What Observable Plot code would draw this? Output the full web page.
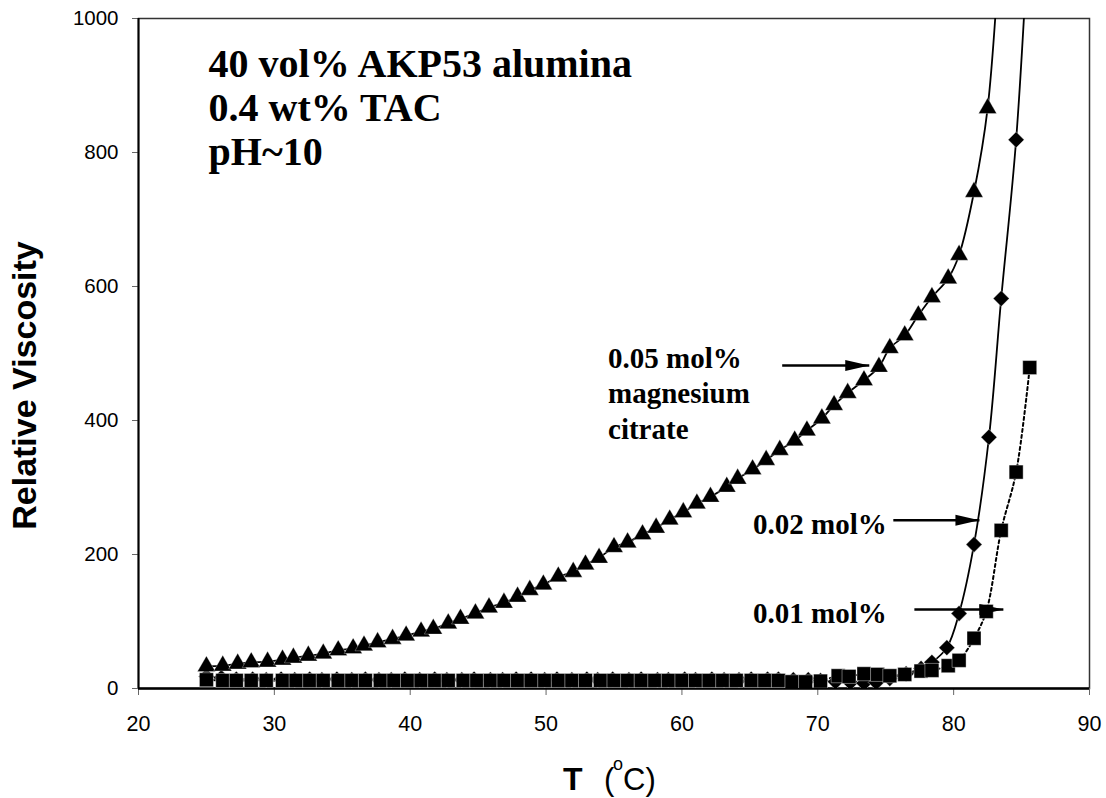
<!DOCTYPE html>
<html><head><meta charset="utf-8">
<script src="https://cdn.jsdelivr.net/npm/d3@7"></script>
<script src="https://cdn.jsdelivr.net/npm/@observablehq/plot@0.6"></script>
<style>body{margin:0;background:#fff} #chart{width:1106px;height:798px;overflow:hidden}</style>
</head><body><div id="chart"></div>
<script>
// 0.05 mol% magnesium citrate (triangles)
const tempA = [25.0, 26.2, 27.3, 28.3, 29.5, 30.6, 31.4, 32.5, 33.6, 34.7, 35.8, 36.6, 37.6, 38.7, 39.7, 40.8, 41.7, 42.8, 43.7, 44.8, 45.8, 46.9, 47.9, 48.8, 49.8, 50.9, 52.0, 52.9, 53.9, 55.0, 56.0, 57.1, 58.1, 59.1, 60.1, 61.1, 62.1, 63.3, 64.1, 65.2, 66.2, 67.2, 68.3, 69.2, 70.3, 71.2, 72.2, 73.4, 74.5, 75.3, 76.4, 77.4, 78.4, 79.6, 80.4, 81.5, 82.5, 83.6];
const viscA = [33, 34, 37, 39, 40, 43, 46, 49, 52, 57, 60, 64, 69, 74, 79, 85, 89, 97, 104, 112, 121, 128, 137, 147, 155, 167, 174, 185, 195, 211, 218, 230, 240, 252, 263, 276, 286, 301, 313, 327, 341, 356, 370, 385, 403, 423, 441, 460, 480, 508, 527, 557, 584, 612, 647, 741, 866, 1180];
// 0.02 mol% (diamonds)
const tempB = [25.0, 26.1, 27.2, 28.4, 29.4, 30.5, 31.5, 32.6, 33.5, 34.6, 35.7, 36.7, 37.7, 38.6, 39.6, 40.7, 41.8, 42.7, 43.8, 44.7, 45.9, 46.8, 47.8, 48.9, 49.9, 50.8, 51.9, 53.0, 53.8, 54.9, 56.1, 57.0, 58.2, 59.0, 60.2, 61.0, 62.2, 63.1, 64.2, 65.1, 66.3, 67.1, 68.2, 69.3, 70.2, 71.3, 72.4, 73.4, 74.3, 75.3, 76.5, 77.6, 78.4, 79.5, 80.4, 81.5, 82.6, 83.5, 84.6, 85.7];
const viscB = [18, 16, 14, 14, 13, 14, 13, 14, 13, 14, 13, 14, 13, 13, 14, 13, 14, 13, 13, 14, 13, 13, 14, 14, 13, 14, 13, 14, 13, 14, 13, 14, 13, 13, 14, 13, 14, 13, 13, 14, 14, 14, 13, 13, 12, 10, 9, 8, 9, 15, 22, 30, 39, 61, 112, 215, 375, 582, 819, 1200];
// 0.01 mol% (squares)
const tempC = [25.0, 26.2, 27.2, 28.3, 29.4, 30.6, 31.6, 32.6, 33.6, 34.7, 35.7, 36.7, 37.8, 38.8, 39.8, 40.8, 41.8, 42.8, 43.9, 44.9, 45.9, 46.9, 47.9, 48.9, 49.9, 50.9, 51.9, 52.9, 54.0, 55.0, 56.0, 57.0, 58.0, 59.0, 60.0, 61.0, 62.0, 63.0, 64.0, 65.1, 66.1, 67.1, 68.1, 69.1, 70.2, 71.5, 72.3, 73.4, 74.4, 75.3, 76.4, 77.6, 78.4, 79.6, 80.4, 81.5, 82.4, 83.5, 84.6, 85.6];
const viscC = [13, 12, 12, 12, 12, 12, 12, 12, 12, 12, 12, 12, 12, 12, 12, 12, 12, 12, 12, 12, 12, 12, 12, 12, 12, 12, 12, 12, 12, 12, 12, 12, 12, 12, 12, 12, 12, 12, 12, 12, 12, 12, 10, 10, 11, 19, 18, 22, 21, 19, 21, 26, 27, 34, 42, 75, 115, 236, 323, 479];

const xTicks = [20, 30, 40, 50, 60, 70, 80, 90];
const yTicks = [0, 200, 400, 600, 800, 1000];

const titleLines = "40 vol% AKP53 alumina\n0.4 wt% TAC\npH~10";
const titleAt = [{x: 25.16, y: 781, label: titleLines}];
const seriesNotes = [
  {x: 54.56, y: 373, label: "0.05 mol%\nmagnesium\ncitrate"},
  {x: 65.24, y: 231, label: "0.02 mol%"},
  {x: 65.24, y: 98.5, label: "0.01 mol%"}
];
const arrows = [
  {x1: 67.38, x2: 73.79, y: 482},
  {x1: 75.56, x2: 81.90, y: 251},
  {x1: 77.11, x2: 83.66, y: 118}
];

const rows = (T, V) => T.map((t, i) => ({T: t, V: V[i]}));
const dA = rows(tempA, viscA), dB = rows(tempB, viscB), dC = rows(tempC, viscC);

const arrowHead = {draw(ctx) { ctx.moveTo(0, 0); ctx.lineTo(-24, -5.5); ctx.lineTo(-24, 5.5); ctx.closePath(); }};

const sans = "'Liberation Sans', Arial, sans-serif";
const serif = "'Liberation Serif', 'Times New Roman', serif";
const plot = Plot.plot({
  width: 1106, height: 798,
  marginLeft: 138, marginRight: 17, marginTop: 18, marginBottom: 110,
  style: {fontFamily: sans, fontSize: "20px", background: "white", color: "black"},
  x: {domain: [20, 90]},
  y: {domain: [0, 1000]},
  marks: [
    Plot.frame({stroke: "#333", strokeWidth: 1.5}),
    Plot.axisY({ticks: yTicks, tickSize: 6, tickPadding: 14, fontSize: 20.5, label: null, stroke: "#666", tickFormat: d => String(d)}),
    Plot.axisX({ticks: xTicks, tickSize: 7, tickPadding: 20, fontSize: 21.5, label: null, stroke: "#666", tickFormat: d => String(d)}),
    Plot.ruleX([20], {stroke: "black", strokeWidth: 2}),
    Plot.ruleY([0], {stroke: "black", strokeWidth: 2.5}),
    Plot.line(dB, {x: "T", y: "V", curve: "catmull-rom", stroke: "black", strokeWidth: 1.8, clip: true}),
    Plot.line(dC, {x: "T", y: "V", curve: "catmull-rom", stroke: "black", strokeWidth: 2, strokeDasharray: "3,3", clip: true}),
    Plot.line(dA, {x: "T", y: "V", curve: "catmull-rom", stroke: "black", strokeWidth: 1.8, clip: true}),
    Plot.dot(dB, {x: "T", y: "V", symbol: "diamond2", r: 7.2, fill: "black", stroke: "white", strokeWidth: 0.4, clip: true}),
    Plot.dot(dC, {x: "T", y: "V", symbol: "square", r: 7.9, fill: "black", stroke: "white", strokeWidth: 0.4, clip: true}),
    Plot.dot(dA, {x: "T", y: "V", symbol: "triangle", r: 6.7, fill: "black", stroke: "white", strokeWidth: 0.3, clip: true}),
    Plot.link(arrows, {x1: "x1", x2: "x2", y1: "y", y2: "y", stroke: "black", strokeWidth: 2.5}),
    Plot.dot(arrows, {x: "x2", y: "y", symbol: arrowHead, r: 5, fill: "black", stroke: "none"}),
    Plot.text(titleAt, {x: "x", y: "y", text: "label", textAnchor: "start", lineAnchor: "bottom", lineHeight: 1.1, fontFamily: serif, fontWeight: "bold", fontSize: 40, fill: "black"}),
    Plot.text(seriesNotes, {x: "x", y: "y", text: "label", textAnchor: "start", lineAnchor: "bottom", lineHeight: 1.22, fontFamily: serif, fontWeight: "bold", fontSize: 29, fill: "black"}),
    Plot.text(["Relative Viscosity"], {text: d => d, frameAnchor: "left", rotate: -90, dx: -113, dy: 32, fontSize: 34, fontWeight: "bold", textAnchor: "middle", lineAnchor: "middle", fill: "black"})
  ]
});

const svg = d3.select(plot);
const g = svg.append("g").attr("fill", "black").attr("font-family", sans).attr("text-anchor", "start");
g.append("text").attr("x", 563).attr("y", 790).attr("font-weight", "bold").attr("font-size", 32).text("T");
g.append("text").attr("x", 604).attr("y", 790).attr("font-size", 31).text("(");
g.append("text").attr("x", 613).attr("y", 770).attr("font-size", 18).text("o");
g.append("text").attr("x", 623).attr("y", 790).attr("font-size", 31).text("C)");

document.getElementById("chart").appendChild(plot);
</script>
</body></html>
